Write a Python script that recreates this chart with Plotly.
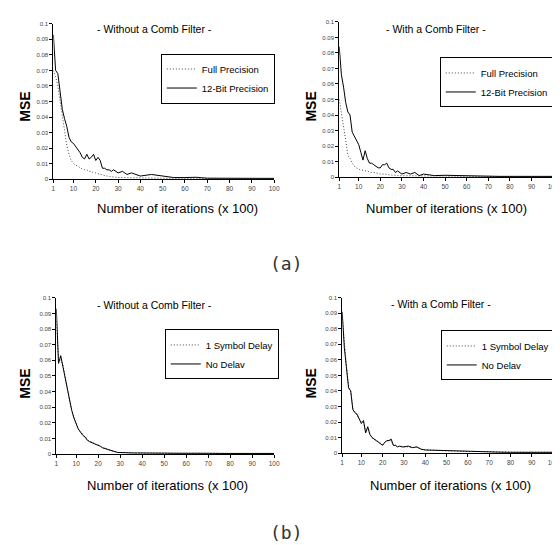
import plotly.graph_objects as go

# ---------------- data ----------------
ITER = list(range(1, 31)) + [32, 34, 36, 38, 40] + [45, 50, 55, 60, 65, 70, 75, 80, 85, 90, 95, 100]

TL_FULL = [.070, .066, .060, .050, .040, .030, .022, .016, .012, .010, .009, .008, .007, .0065, .006,
           .006, .005, .005, .004, .004, .0035, .003, .003, .0025, .002, .0018, .0015, .0012, .001, .001,
           .001, .0009, .0009, .0008, .0008,
           .0007, .0006, .0006, .0005, .0005, .0005, .0005, .0004, .0004, .0004, .0004, .0004]
TL_12BIT = [.093, .070, .068, .058, .045, .039, .034, .027, .024, .023, .021, .019, .017, .014, .013,
            .016, .013, .014, .016, .012, .014, .012, .007, .007, .006, .006, .005, .006, .005, .004,
            .005, .003, .004, .003, .002,
            .003, .002, .001, .001, .0012, .0006, .0005, .0005, .0005, .0005, .0005, .0005]

TR_FULL = [.050, .042, .032, .024, .014, .012, .009, .007, .006, .005, .0045, .0045, .004, .004, .0035,
           .003, .003, .0025, .0025, .002, .002, .002, .0018, .0015, .0015, .0012, .0012, .001, .001, .001,
           .001, .0008, .0008, .0008, .0007,
           .0007, .0006, .0006, .0005, .0005, .0005, .0005, .0004, .0004, .0004, .0004, .0004]
TR_12BIT = [.084, .066, .058, .048, .042, .040, .029, .026, .024, .021, .016, .011, .017, .012, .009,
            .009, .008, .007, .006, .006, .008, .008, .009, .006, .005, .005, .003, .004, .003, .002,
            .003, .002, .003, .001, .002,
            .001, .0012, .001, .001, .0008, .0006, .0005, .0005, .0005, .0005, .0005, .0005]

BL_DELAY = [.085, .062, .060, .057, .049, .041, .034, .028, .024, .020, .016, .014, .013, .011, .010,
            .008, .008, .007, .006, .006, .005, .004, .004, .003, .0025, .002, .0016, .0012, .001, .001,
            .0009, .0008, .0008, .0007, .0007,
            .0006, .0006, .0006, .0006, .0009, .0005, .0005, .0004, .0004, .0004, .0004, .0004]
BL_NODELAY = [.093, .058, .063, .056, .048, .040, .033, .028, .023, .019, .016, .014, .012, .011, .009,
              .008, .0075, .007, .006, .0055, .005, .004, .0035, .003, .0025, .002, .0015, .0012, .001, .001,
              .0008, .0008, .0007, .0007, .0006,
              .0006, .0006, .0005, .0006, .0008, .0005, .0004, .0004, .0004, .0004, .0004, .0004]

BR_DELAY = [.088, .069, .056, .043, .040, .029, .026, .024, .022, .020, .020, .014, .016, .012, .010,
            .009, .008, .007, .006, .0055, .007, .008, .0085, .008, .005, .005, .004, .0045, .004, .004,
            .004, .0035, .0038, .0025, .002,
            .0017, .0013, .001, .001, .001, .0008, .0006, .0005, .0005, .0005, .0005, .0005]
BR_NODELAY = [.091, .068, .055, .042, .040, .028, .026, .025, .022, .019, .021, .013, .017, .012, .010,
              .009, .008, .007, .006, .005, .007, .008, .008, .009, .005, .005, .004, .0045, .004, .004,
              .0045, .0035, .004, .0025, .002,
              .0018, .0012, .001, .001, .001, .0008, .0006, .0005, .0005, .0005, .0005, .0005]

X_TICKS = [1, 10, 20, 30, 40, 50, 60, 70, 80, 90, 100]
Y_TICKS = [0, 0.01, 0.02, 0.03, 0.04, 0.05, 0.06, 0.07, 0.08, 0.09, 0.1]
Y_TICKTEXT = ["0", "0.01", "0.02", "0.03", "0.04", "0.05", "0.06", "0.07", "0.08", "0.09", "0.1"]

PANEL_TITLES = ["- Without a Comb Filter -", "- With a Comb Filter -",
                "- Without a Comb Filter -", "- With a Comb Filter -"]
LEGEND_NAMES = [("Full Precision", "12-Bit Precision"), ("Full Precision", "12-Bit Precision"),
                ("1 Symbol Delay", "No Delav"), ("1 Symbol Delay", "No Delav")]
SERIES = [(TL_FULL, TL_12BIT), (TR_FULL, TR_12BIT), (BL_DELAY, BL_NODELAY), (BR_DELAY, BR_NODELAY)]
X_TITLE = "Number of iterations (x 100)"
Y_TITLE = "MSE"
SUB_LABELS = ["(a)", "(b)"]

# ---------------- layout (pixels) ----------------
W, H = 560, 545
FONT = "Liberation Sans Narrow, Liberation Sans, Arial, sans-serif"
FONT2 = "Liberation Sans, Arial, sans-serif"

# plot areas: (x_left, x_right, y_top, y_bottom) in pixels
areas = [(44, 268, 13, 170), (334, 551, 11, 168), (47, 268, 290, 448), (337, 551, 290, 447)]
title_pos = [(147, 18), (432, 18), (147, 297), (437, 296)]
mse_pos = [(15, 97), (305, 97), (15, 377), (305, 377)]
xt_pos = [(170, 200), (443, 200), (160, 480), (447, 480)]
leg_pos = [(153, 43), (436, 47), (157, 322), (437, 323)]
sub_pos = [(280, 255), (280, 527)]

def px(x):
    return x / W

def py(y):
    return 1 - y / H

fig = go.Figure()
annotations = []
for i in range(4):
    xl, xr, yt, yb = areas[i]
    n = "" if i == 0 else str(i + 1)
    dotted, solid = SERIES[i]
    names = LEGEND_NAMES[i]
    leg = "legend" if i == 0 else "legend" + str(i + 1)
    fig.add_trace(go.Scatter(x=ITER, y=dotted, mode="lines", name=names[0],
                             line=dict(color="#444444", width=1, dash="1px,2px"),
                             xaxis="x" + n, yaxis="y" + n, legend=leg))
    fig.add_trace(go.Scatter(x=ITER, y=solid, mode="lines", name=names[1],
                             line=dict(color="black", width=1),
                             xaxis="x" + n, yaxis="y" + n, legend=leg))
    fig.update_layout(**{
        "xaxis" + n: dict(domain=[px(xl), px(xr)], anchor="y" + n, range=[1, 100],
                          tickvals=X_TICKS, ticks="outside", ticklen=3, tickcolor="black",
                          tickfont=dict(size=6.5, color="#444444", family=FONT2),
                          showline=True, linecolor="black", linewidth=1,
                          showgrid=False, zeroline=False),
        "yaxis" + n: dict(domain=[py(yb), py(yt)], anchor="x" + n, range=[0, 0.1],
                          tickvals=Y_TICKS, ticktext=Y_TICKTEXT, ticks="outside", ticklen=3,
                          tickcolor="black",
                          tickfont=dict(size=6, color="#444444", family=FONT2),
                          showline=True, linecolor="black", linewidth=1,
                          showgrid=False, zeroline=False),
        leg: dict(x=px(leg_pos[i][0]), y=py(leg_pos[i][1]), xanchor="left", yanchor="top",
                  bgcolor="white", bordercolor="black", borderwidth=1,
                  font=dict(size=9.5, color="black", family=FONT), tracegroupgap=0),
    })
    annotations.append(dict(text=PANEL_TITLES[i], x=px(title_pos[i][0]), y=py(title_pos[i][1]),
                            xref="paper", yref="paper", showarrow=False,
                            xanchor="center", yanchor="middle",
                            font=dict(size=10.5, color="black", family=FONT)))
    annotations.append(dict(text="<b>" + Y_TITLE + "</b>", x=px(mse_pos[i][0]), y=py(mse_pos[i][1]),
                            xref="paper", yref="paper", showarrow=False, textangle=-90,
                            xanchor="center", yanchor="middle",
                            font=dict(size=14, color="black", family=FONT2)))
    annotations.append(dict(text=X_TITLE, x=px(xt_pos[i][0]), y=py(xt_pos[i][1]),
                            xref="paper", yref="paper", showarrow=False,
                            xanchor="center", yanchor="middle",
                            font=dict(size=13, color="black", family=FONT2)))

for j in range(2):
    annotations.append(dict(text=SUB_LABELS[j], x=px(sub_pos[j][0]), y=py(sub_pos[j][1]),
                            xref="paper", yref="paper", showarrow=False,
                            xanchor="center", yanchor="middle",
                            font=dict(size=18, color="#333333", family="DejaVu Sans Mono, monospace")))

fig.update_layout(width=W, height=H, margin=dict(l=0, r=0, t=0, b=0),
                  paper_bgcolor="white", plot_bgcolor="white",
                  annotations=annotations, showlegend=True)

fig.write_html("out.html")
